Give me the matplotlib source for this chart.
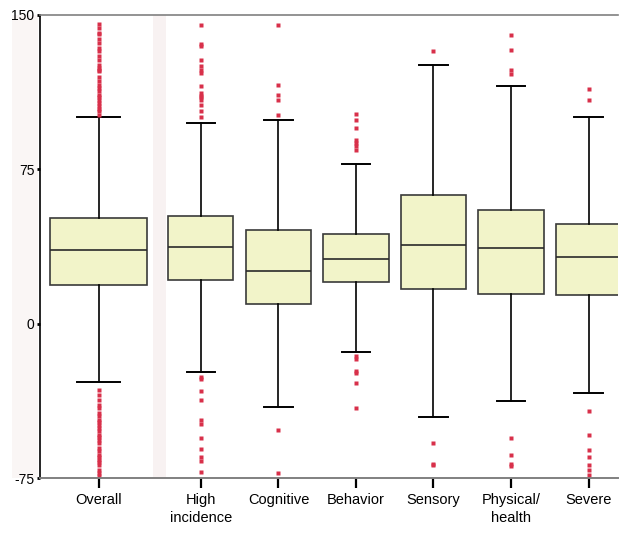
import matplotlib
matplotlib.use("Agg")
import matplotlib.pyplot as plt

# --- box summaries per group (score units) ---
categories = ["Overall", "High\nincidence", "Cognitive", "Behavior",
              "Sensory", "Physical/\nhealth", "Severe"]
q1 = [18.6, 21.4, 9.7, 20.1, 16.8, 14.4, 13.8]
medians = [35.6, 37.3, 25.6, 31.4, 38.4, 36.6, 32.4]
q3 = [51.4, 52.5, 45.3, 43.7, 62.3, 55.4, 48.4]
whisker_lo = [-28.3, -23.6, -40.7, -13.8, -45.4, -37.7, -33.5]
whisker_hi = [100.6, 97.5, 98.8, 77.7, 125.5, 115.6, 100.4]

outliers = [
    # Overall
    [145.6, 143.5, 141.3, 140.9, 138.5, 136.4, 134.0, 132.3, 130.3, 128.3,
     125.9, 124.2, 123.4, 122.6, 120.0, 117.8, 116.1, 114.5, 112.9, 111.3,
     110.0, 108.8, 107.2, 105.6, 104.4, 103.2, 101.6,
     -32.4, -34.5, -36.9, -39.4, -41.0, -43.4, -45.0, -46.6, -47.8, -49.1,
     -50.7, -52.3, -53.9, -55.2, -56.4, -58.0, -60.4, -62.1, -63.7, -65.0,
     -66.1, -67.3, -68.5, -70.9, -72.6, -74.2],
    # High incidence
    [145.3, 135.9, 134.7, 128.3, 125.4, 123.4, 121.8, 115.3, 112.1, 110.8,
     110.0, 108.8, 106.4, 103.2, 100.4,
     -25.9, -26.9, -32.7, -36.9, -46.6, -48.6, -55.5, -60.9, -64.8, -66.7,
     -71.9],
    # Cognitive
    [145.3, 115.9, 111.3, 108.8, 101.6, -51.5, -72.6],
    # Behavior
    [102.0, 98.8, 95.1, 89.1, 87.8, 86.2, 84.5,
     -15.9, -17.2, -23.2, -24.0, -28.8, -41.0],
    # Sensory
    [132.3, -58.0, -68.0, -68.7],
    # Physical/health
    [140.1, 132.8, 123.1, 121.5, -55.6, -63.8, -68.2, -69.3],
    # Severe
    [114.2, 108.8, -42.6, -53.9, -61.6, -65.0, -68.5, -70.9, -73.7],
]

stats = []
for i, name in enumerate(categories):
    stats.append(dict(label=name, med=medians[i], q1=q1[i], q3=q3[i],
                      whislo=whisker_lo[i], whishi=whisker_hi[i],
                      fliers=outliers[i]))

# first box sits apart from the group boxes and is drawn wider
positions = [0.0] + [1.32 + k for k in range(len(categories) - 1)]
widths = [1.26] + [0.84] * (len(categories) - 1)
capwidths = [0.55] + [0.37] * (len(categories) - 1)

plt.rcParams["font.family"] = ["Liberation Sans", "DejaVu Sans"]

fig = plt.figure(figsize=(6.2, 5.5), dpi=100)
ax = fig.add_axes([40 / 620, 1 - 478 / 550, 578 / 620, 463 / 550])

# faint band between the overall box and the group boxes
ax.axvspan(0.70, 0.87, color="#f8f2f2", zorder=0, lw=0)
# faint strip left of the value axis, kept behind the tick labels
fig.patches.append(plt.Rectangle((12 / 620, 1 - 478 / 550), 26 / 620,
                                 463 / 550, transform=fig.transFigure,
                                 color="#faf6f5", zorder=-5, lw=0))

ax.bxp(stats, positions=positions, widths=widths, capwidths=capwidths,
       patch_artist=True,
       boxprops=dict(facecolor="#f2f4c9", edgecolor="#3a3a3a", linewidth=1.2),
       medianprops=dict(color="#2a2a2a", linewidth=1.2),
       whiskerprops=dict(color="black", linewidth=1.2),
       capprops=dict(color="black", linewidth=1.4),
       flierprops=dict(marker="s", markersize=2.2, markerfacecolor="#d8304a",
                       markeredgecolor="none", linestyle="none"))

ax.set_xlim(-0.756, 6.70)
ax.set_ylim(-75, 150)
ax.set_yticks([-75, 0, 75, 150])
ax.set_yticklabels(["-75", "0", "75", "150"], fontsize=10)
ax.set_xticks(positions)
ax.set_xticklabels(categories, fontsize=10.5, linespacing=1.3)

ax.tick_params(axis="y", direction="out", length=2, width=2, pad=2,
               color="black")
ax.tick_params(axis="x", direction="out", length=7, width=1.6, pad=4,
               color="black")

ax.spines["right"].set_visible(False)
ax.spines["left"].set_color("black")
ax.spines["left"].set_linewidth(1.2)
ax.spines["top"].set_color("#808080")
ax.spines["top"].set_linewidth(1.2)
ax.spines["bottom"].set_color("#808080")
ax.spines["bottom"].set_linewidth(1.4)

fig.savefig("out.png", dpi=100)
